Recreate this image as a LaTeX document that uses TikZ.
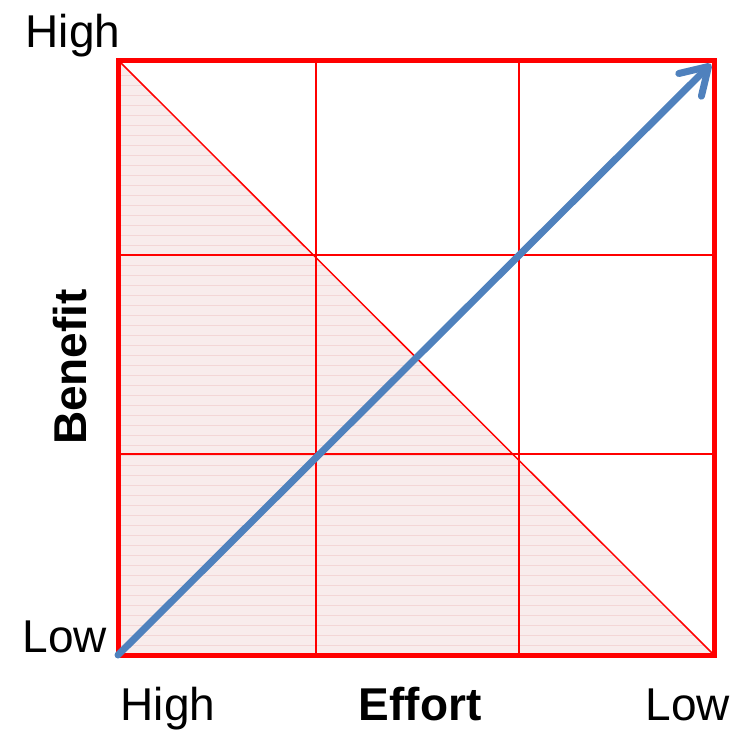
\documentclass[tikz,border=0pt]{standalone}
\usepackage{fontspec}
\setmainfont{Liberation Sans}
\usetikzlibrary{arrows.meta}
\definecolor{gridred}{HTML}{FF0000}
\definecolor{pinkfill}{HTML}{F8ECEC}
\definecolor{pinkline}{HTML}{F3D6D6}
\definecolor{arrowblue}{HTML}{4F81BD}
\tikzset{
  lbl/.style={font=\fontsize{46}{50}\selectfont, inner sep=0pt},
  blbl/.style={font=\fontsize{46}{50}\selectfont\bfseries, inner sep=0pt},
  gridline/.style={draw=gridred, line width=1.8pt},
  outer/.style={draw=gridred, line width=5pt},
  diag/.style={draw=gridred, line width=1.5pt},
  bigarrow/.style={draw=arrowblue, line width=7pt, line cap=round, -{Straight Barb[round, length=26pt, width=32pt]}}
}
\begin{document}
\begin{tikzpicture}[x=1pt,y=-1pt]
\useasboundingbox (0,0) rectangle (743,729);
\coordinate (TL) at (118,60);
\coordinate (BL) at (118,655);
\coordinate (BR) at (714,655);
\coordinate (TR) at (711,64);
% shaded triangle
\fill[pinkfill] (TL) -- (BL) -- (BR) -- cycle;
\begin{scope}
\clip (TL) -- (BL) -- (BR) -- cycle;
\foreach \y in {65,75,...,655} {
  \draw[pinkline, line width=0.8pt] (118,\y) -- (714,\y);
}
\end{scope}
% inner grid
\draw[gridline] (316,60) -- (316,655);
\draw[gridline] (519,60) -- (519,655);
\draw[gridline] (118,255) -- (714,255);
\draw[gridline] (118,454) -- (714,454);
% diagonal
\draw[diag] (TL) -- (BR);
% outer border
\draw[outer] (TL) rectangle (BR);
% arrow
\draw[bigarrow] (BL) -- (TR);
% labels
\node[lbl, anchor=base] (hightop) at (73,47) {High};
\node[lbl, anchor=base] (lowleft) at (65,652) {Low};
\node[blbl, rotate=90] (benefit) at (70,367) {Benefit};
\node[lbl, anchor=base] (highbot) at (168,720) {High};
\node[blbl, anchor=base] (effort) at (420,720) {Effort};
\node[lbl, anchor=base] (lowbot) at (688,720) {Low};
\end{tikzpicture}
\end{document}
